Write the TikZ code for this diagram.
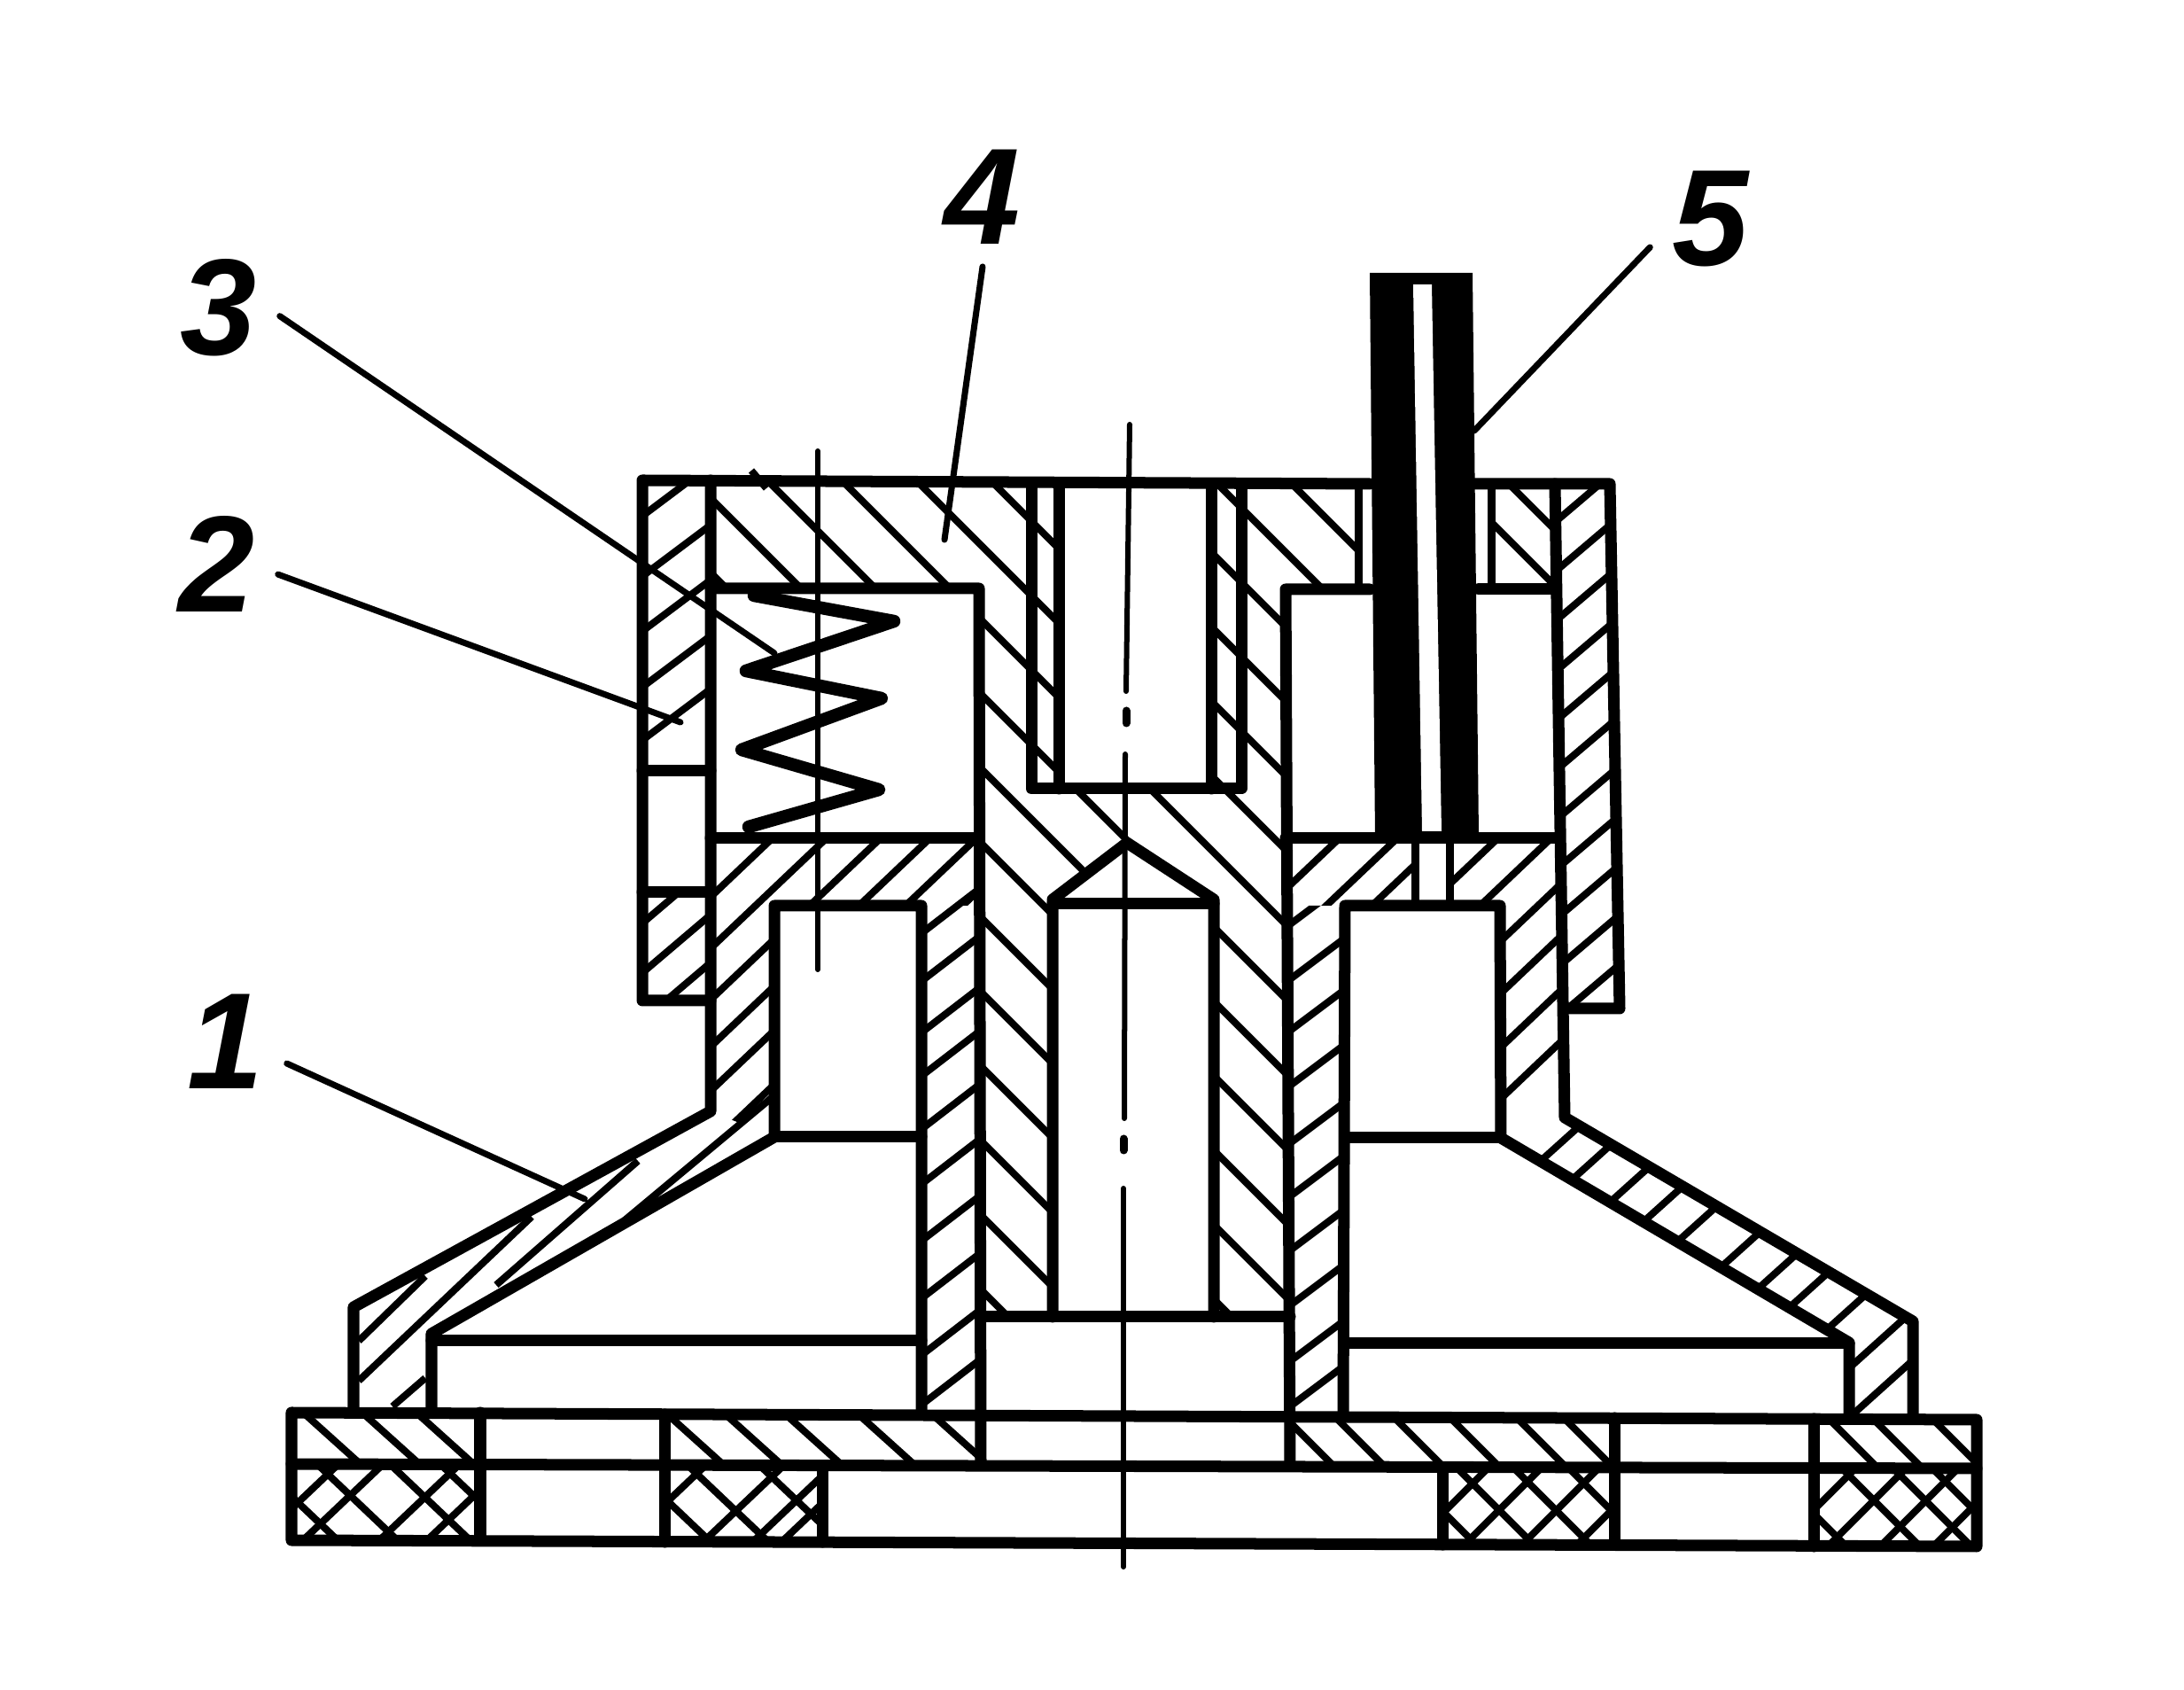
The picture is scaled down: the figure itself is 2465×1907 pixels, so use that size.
\documentclass[tikz,border=0pt]{standalone}
\usepackage{fontspec}
\setmainfont{Liberation Sans}
\usetikzlibrary{calc}
\tikzset{
  wall/.style={line width=0.13cm,line join=round,line cap=round},
  midwall/.style={line width=0.09cm,line cap=round},
  spring/.style={line width=0.145cm,line join=round,line cap=round},
  hatchline/.style={line width=0.08cm},
  leader/.style={line width=0.07cm,line cap=round},
  axisline/.style={line width=0.06cm,line cap=round},
  axisdot/.style={line width=0.09cm,line cap=round},
  partlabel/.style={font=\fontsize{44}{44}\selectfont\bfseries\itshape,inner sep=0.25cm}
}
% parallel lines y = slope*x + offset inside a closed region
\newcommand{\hatchin}[3]{
  \begin{scope}
    \clip #1;
    \foreach \off in {#3} \draw[hatchline] (0,\off) -- (2500,{\off+2500*#2});
  \end{scope}
}

\begin{document}
\begin{tikzpicture}[x=0.01cm,y=-0.01cm]
                \useasboundingbox (0,0) rectangle (2465,1907);

                %upper housing walls
                \hatchin{(725,542)--(802,542)--(802,870)--(725,870)--cycle}{-0.75}{1126,1194,1256,1319,1379}
                \hatchin{(725,1007)--(802,1007)--(802,1129)--(725,1129)--cycle}{-0.85}{1658,1714,1768}
                \hatchin{(1755,546)--(1817,546)--(1828,1138)--(1769,1138)--cycle}{-0.85}{2081,2137,2193,2250,2306,2362,2418,2474,2530,2586,2642}

                %central body, the holes are painted white over it
                \hatchin{(802,546)--(1533,546)--(1533,665)--(1451,665)--(1451,1486)--(1107,1486)--(1105,662)--(802,662)--cycle}{1}{-912,-828,-744,-660,-576,-492,-408,-324,-240,-156,-72,12,96,180,264,348}
                \hatchin{(1683,546)--(1755,546)--(1755,665)--(1683,665)--cycle}{1}{-1157,-1094}
                \fill[white] (1195,546) rectangle (1367,890);
                \fill[white] (1188,1486)--(1188,1015)--(1272,951)--(1370,1015)--(1370,1486)--cycle;
                \draw[hatchline] (848,531) -- (865,551);

                %lower housing, left half
                \hatchin{(802,946)--(1105,946)--(1105,1022)--(874,1022)--(874,1283)--(802,1254)--cycle}{-0.95}{1774,1832,1890,1943,1993,2054}
                \hatchin{(1040,1030)--(1105,1000)--(1107,1594)--(1040,1594)--cycle}{-0.77}{1854,1908,1966,2015,2075,2137,2201,2266,2330,2386}
                \draw[hatchline] (405,1513) -- (480,1440);
                \draw[hatchline] (405,1558) -- (600,1373);
                \draw[hatchline] (560,1450) -- (720,1310);
                \draw[hatchline] (705,1377) -- (873,1237);
                \draw[hatchline] (443,1587) -- (480,1555);

                %lower housing, right half
                \hatchin{(1456,946)--(1755,946)--(1766,1261)--(1694,1284)--(1694,1022)--(1456,1022)--cycle}{-0.95}{2382,2444,2493,2552,2609,2671,2730,2791,2849}
                \hatchin{(1456,1022)--(1518,1022)--(1516,1598)--(1456,1598)--cycle}{-0.75}{2075,2135,2197,2255,2317,2382,2442,2503,2565,2628,2679}
                \hatchin{(1766,1261)--(2159,1491)--(2159,1598)--(2087,1598)--(2087,1515)--(1694,1284)--cycle}{-0.9}{2875,2928,2992,3048,3105,3178,3240,3293,3356,3422,3478}
                \fill[white] (1597,946) rectangle (1636,1020);

                %base plate, top layer
                \hatchin{(329,1594)--(542,1596)--(542,1654)--(329,1652)--cycle}{0.9}{1286,1226,1171}
                \hatchin{(750,1596)--(1107,1598)--(1107,1654)--(750,1654)--cycle}{0.9}{918,859,798,724,649}
                \hatchin{(1456,1598)--(1822,1600)--(1822,1656)--(1456,1656)--cycle}{1}{149,92,26,-37,-112,-165}
                \hatchin{(2047,1600)--(2231,1602)--(2231,1657)--(2047,1657)--cycle}{1}{-463,-513,-580}

                %base plate, crossed layer
                \hatchin{(329,1652)--(542,1654)--(542,1738)--(329,1738)--cycle}{-0.95}{2015,2063,2145,2196}
                \hatchin{(329,1652)--(542,1654)--(542,1738)--(329,1738)--cycle}{0.95}{1376,1312,1234,1180}
                \hatchin{(750,1654)--(928,1654)--(928,1740)--(750,1740)--cycle}{-0.95}{2410,2494,2547,2578}
                \hatchin{(750,1654)--(928,1654)--(928,1740)--(750,1740)--cycle}{0.95}{978,916,839}
                \hatchin{(1628,1656)--(1822,1656)--(1822,1743)--(1628,1743)--cycle}{-1}{3336,3396,3461,3523}
                \hatchin{(1628,1656)--(1822,1656)--(1822,1743)--(1628,1743)--cycle}{1}{77,12,-52,-114}
                \hatchin{(2047,1657)--(2231,1657)--(2231,1745)--(2047,1745)--cycle}{-1}{3751,3808,3867,3927}
                \hatchin{(2047,1657)--(2231,1657)--(2231,1745)--(2047,1745)--cycle}{1}{-339,-422,-480,-524}

                %housing outline
                \draw[wall] (802,1129) -- (725,1129) -- (725,542) -- (1546,546);
                \draw[wall] (1662,546) -- (1817,546) -- (1828,1138) -- (1769,1138);
                \draw[wall] (725,870) -- (802,870);
                \draw[wall] (725,1007) -- (802,1007);
                \draw[wall] (802,542) -- (802,1254) -- (399,1475) -- (399,1594);
                \draw[wall] (1755,546) -- (1766,1261) -- (2159,1491) -- (2159,1600);

                %spring chamber and right chamber
                \draw[wall] (802,664) -- (1105,664) -- (1107,1652);
                \draw[wall] (802,946) -- (1105,946);
                \draw[wall] (1546,665) -- (1451,665) -- (1456,1654);
                \draw[wall] (1669,665) -- (1755,665);
                \draw[wall] (1451,946) -- (1755,946);
                \draw[midwall] (1683,546) -- (1683,665);
                \draw[midwall] (1533,546) -- (1533,665);

                %spring
                \draw[spring] (851,672) -- (1009,701) -- (842,757) -- (995,788) -- (837,846) -- (992,891) -- (845,933);

                %sleeve and holes of the central body
                \draw[wall] (1164,546) -- (1164,890) -- (1401,890) -- (1401,546);
                \draw[wall] (1195,546) -- (1195,890);
                \draw[wall] (1367,546) -- (1367,890);
                \draw[wall] (1188,1486) -- (1188,1015) -- (1272,951) -- (1370,1015) -- (1370,1486);
                \draw[wall] (1188,1020) -- (1370,1020);
                \draw[wall] (1107,1486) -- (1456,1486);

                %lower chambers
                \draw[wall] (1040,1594) -- (1040,1022) -- (874,1022) -- (874,1283) -- (487,1505) -- (487,1594);
                \draw[wall] (874,1283) -- (1040,1283);
                \draw[wall] (487,1513) -- (1040,1513);
                \draw[wall] (1516,1598) -- (1518,1022) -- (1693,1022) -- (1694,1284) -- (2087,1515) -- (2087,1600);
                \draw[wall] (1518,1284) -- (1694,1284);
                \draw[wall] (1518,1516) -- (2087,1516);

                %rod with its channel
                \fill[black] (1546,308) -- (1662,308) -- (1669,943) -- (1552,943) -- cycle;
                \fill[white] (1595,321) -- (1616,321) -- (1627,938) -- (1605,938) -- cycle;
                \draw[midwall] (1597,946) -- (1597,1018);
                \draw[midwall] (1636,946) -- (1636,1018);

                %base plate
                \draw[wall] (329,1594) -- (2231,1602) -- (2231,1745) -- (329,1738) -- cycle;
                \draw[wall] (329,1652) -- (2231,1657);
                \draw[wall] (542,1594) -- (542,1738);
                \draw[wall] (750,1596) -- (750,1740);
                \draw[wall] (928,1654) -- (928,1740);
                \draw[wall] (1628,1656) -- (1628,1743);
                \draw[wall] (1822,1600) -- (1822,1743);
                \draw[wall] (2047,1601) -- (2047,1745);

                %axis lines
                \draw[axisline] (923,509) -- (923,1094);
                \draw[axisline] (1275,479) -- (1271,780);
                \draw[axisdot] (1271,802) -- (1271,816);
                \draw[axisline] (1270,851) -- (1269,1262);
                \draw[axisdot] (1268,1285) -- (1268,1298);
                \draw[axisline] (1268,1341) -- (1268,1768);

                %part numbers and their leaders
                \node[partlabel] (lab1) at (255,1175) {1};
                \node[partlabel] (lab2) at (245,636) {2};
                \node[partlabel] (lab3) at (247,347) {3};
                \node[partlabel] (lab4) at (1109,222) {4};
                \node[partlabel] (lab5) at (1931,247) {5};
                \coordinate (tip1) at (660,1353);
                \coordinate (tip2) at (768,815);
                \coordinate (tip3) at (874,737);
                \coordinate (tip4) at (1066,609);
                \coordinate (tip5) at (1664,486);
                \draw[leader] (lab1.-20) -- (tip1);
                \draw[leader] (lab2.-10) -- (tip2);
                \draw[leader] (lab3.-8) -- (tip3);
                \draw[leader] (lab4.south) -- (tip4);
                \draw[leader] (lab5.-155) -- (tip5);
\end{tikzpicture}
\end{document}
